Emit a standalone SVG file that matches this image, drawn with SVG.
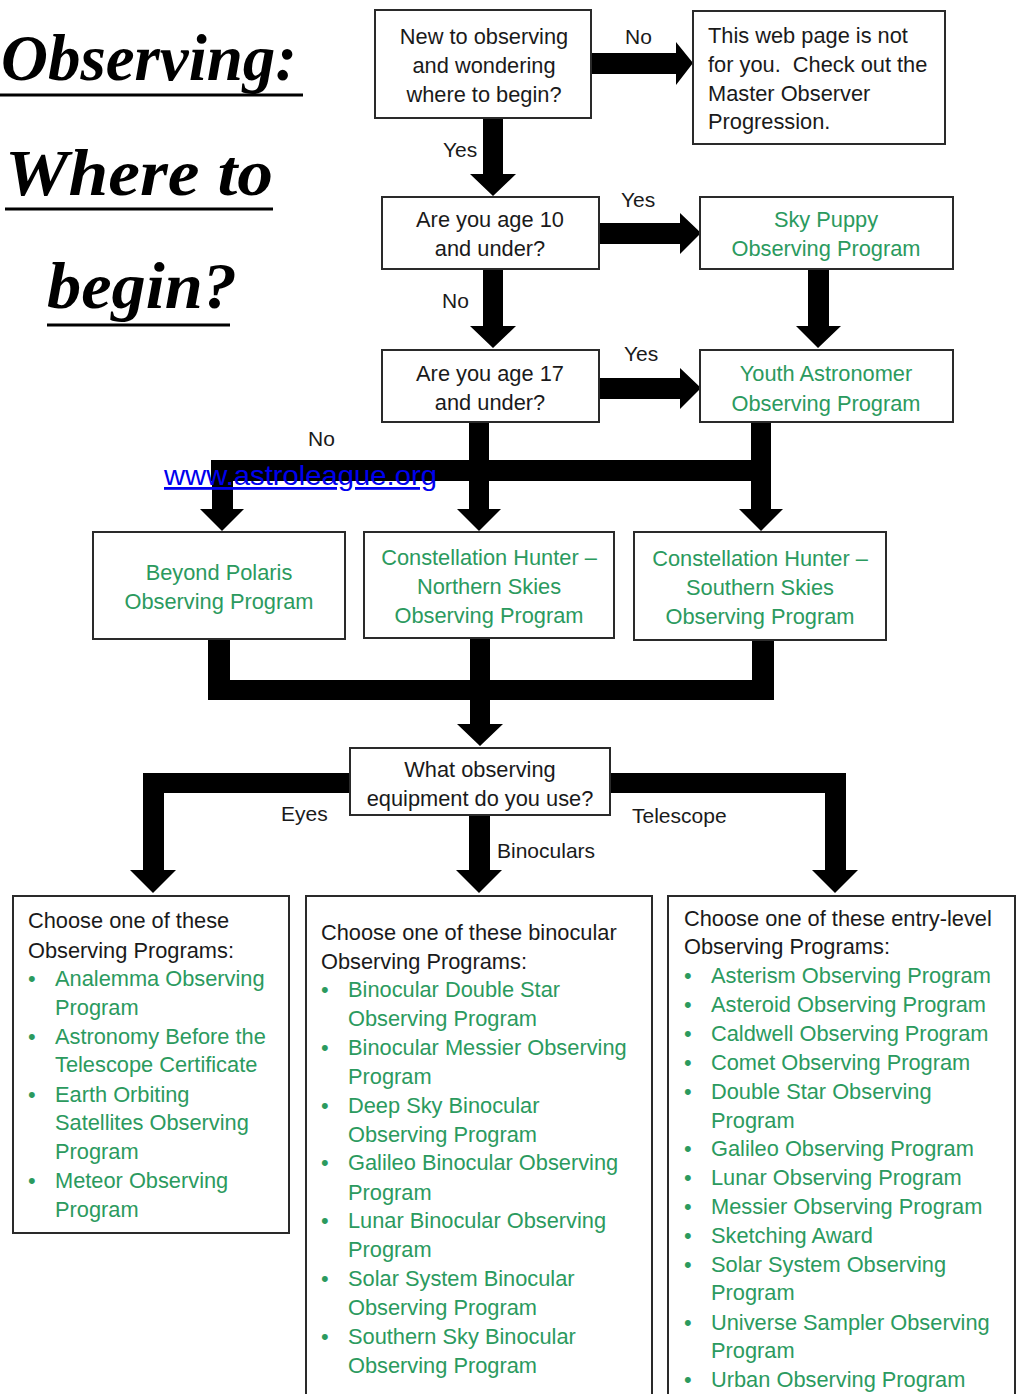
<svg xmlns="http://www.w3.org/2000/svg" width="1017" height="1394" viewBox="0 0 1017 1394">
<style>
.box{fill:#fff;stroke:#2a2a2a;stroke-width:2}
.t{font-family:"Liberation Sans",Arial,sans-serif;font-size:21.8px;fill:#1a1a1a}
.g{font-family:"Liberation Sans",Arial,sans-serif;font-size:21.8px;fill:#2b9a5e}
.c{text-anchor:middle}
.lbl{font-family:"Liberation Sans",Arial,sans-serif;font-size:21px;fill:#1a1a1a}
.title{font-family:"Liberation Serif","DejaVu Serif",serif;font-style:italic;font-weight:bold;font-size:66px;fill:#000}
.ul{stroke:#000;stroke-width:3}
.arr{fill:#000}
.link{font-family:"Liberation Sans",Arial,sans-serif;font-size:28px;fill:#0000ee;text-decoration:underline}
</style>
<rect width="1017" height="1394" fill="#fff"/>

<g id="title">
<text class="title" x="1" y="80" textLength="296" lengthAdjust="spacingAndGlyphs">Observing:</text>
<line class="ul" x1="0" y1="95" x2="303" y2="95"/>
<text class="title" x="5" y="195" textLength="268" lengthAdjust="spacingAndGlyphs">Where to</text>
<line class="ul" x1="5" y1="209" x2="273" y2="209"/>
<text class="title" x="47" y="308" textLength="190" lengthAdjust="spacingAndGlyphs">begin?</text>
<line class="ul" x1="47" y1="325" x2="230" y2="325"/>
</g>

<g id="connectors">
<path class="arr" d="M591,53 H676 V42 L693,63 L676,85 V74 H591 Z"/>
<path class="arr" d="M483,118 H503 V174 H516 L493,196 L470,174 H483 Z"/>
<path class="arr" d="M599,223 H680 V213 L701,233 L680,254 V244 H599 Z"/>
<path class="arr" d="M483,269 H503 V326 H516 L493,348 L470,326 H483 Z"/>
<path class="arr" d="M808,269 H829 V326 H841 L818,348 L796,326 H808 Z"/>
<path class="arr" d="M599,378 H680 V368 L701,388 L680,409 V399 H599 Z"/>
<rect class="arr" x="211" y="460" width="560" height="21"/>
<path class="arr" d="M469,422 H489 V509 H501 L479,531 L457,509 H469 Z"/>
<path class="arr" d="M751,422 H771 V509 H783 L761,531 L739,509 H751 Z"/>
<path class="arr" d="M212,460 H233 V509 H244 L222,531 L200,509 H212 Z"/>
<rect class="arr" x="208" y="639" width="22" height="61"/>
<rect class="arr" x="752" y="639" width="22" height="61"/>
<rect class="arr" x="208" y="680" width="566" height="20"/>
<path class="arr" d="M470,638 H490 V724 H503 L480,746 L457,724 H470 Z"/>
<path class="arr" d="M350,773 H143 V870 H130 L153,893 L176,870 H164 V793 H350 Z"/>
<path class="arr" d="M610,773 H846 V870 H858 L835,893 L812,870 H825 V793 H610 Z"/>
<path class="arr" d="M469,815 H490 V870 H502 L479,893 L456,870 H469 Z"/>
<text class="lbl" x="625" y="44">No</text>
<text class="lbl" x="443" y="157">Yes</text>
<text class="lbl" x="621" y="207">Yes</text>
<text class="lbl" x="442" y="308">No</text>
<text class="lbl" x="624" y="361">Yes</text>
<text class="lbl" x="308" y="446">No</text>
<text class="lbl" x="281" y="821">Eyes</text>
<text class="lbl" x="632" y="823">Telescope</text>
<text class="lbl" x="497" y="858">Binoculars</text>
</g>

<g id="n-new">
<rect class="box" x="375" y="10" width="216" height="108"/>
<text class="t c" x="484" y="44">New to observing</text>
<text class="t c" x="484" y="73">and wondering</text>
<text class="t c" x="484" y="102">where to begin?</text>
</g>

<g id="n-notforyou">
<rect class="box" x="693" y="11" width="252" height="133"/>
<text class="t" x="708" y="43">This web page is not</text>
<text class="t" x="708" y="72">for you.&#160; Check out the</text>
<text class="t" x="708" y="101">Master Observer</text>
<text class="t" x="708" y="129">Progression.</text>
</g>

<g id="n-age10">
<rect class="box" x="382" y="197" width="217" height="72"/>
<text class="t c" x="490" y="227">Are you age 10</text>
<text class="t c" x="490" y="256">and under?</text>
</g>

<g id="n-skypuppy">
<rect class="box" x="700" y="197" width="253" height="72"/>
<text class="g c" x="826" y="227">Sky Puppy</text>
<text class="g c" x="826" y="256">Observing Program</text>
</g>

<g id="n-age17">
<rect class="box" x="382" y="350" width="217" height="72"/>
<text class="t c" x="490" y="381">Are you age 17</text>
<text class="t c" x="490" y="410">and under?</text>
</g>

<g id="n-youth">
<rect class="box" x="700" y="350" width="253" height="72"/>
<text class="g c" x="826" y="381">Youth Astronomer</text>
<text class="g c" x="826" y="411">Observing Program</text>
</g>

<g id="n-link">
<text class="link" x="164" y="485" textLength="273" lengthAdjust="spacingAndGlyphs">www.astroleague.org</text>
</g>

<g id="n-polaris">
<rect class="box" x="93" y="532" width="252" height="107"/>
<text class="g c" x="219" y="580">Beyond Polaris</text>
<text class="g c" x="219" y="609">Observing Program</text>
</g>

<g id="n-chnorth">
<rect class="box" x="364" y="532" width="250" height="106"/>
<text class="g c" x="489" y="565">Constellation Hunter –</text>
<text class="g c" x="489" y="594">Northern Skies</text>
<text class="g c" x="489" y="623">Observing Program</text>
</g>

<g id="n-chsouth">
<rect class="box" x="634" y="532" width="252" height="108"/>
<text class="g c" x="760" y="566">Constellation Hunter –</text>
<text class="g c" x="760" y="595">Southern Skies</text>
<text class="g c" x="760" y="624">Observing Program</text>
</g>

<g id="n-equipment">
<rect class="box" x="350" y="748" width="260" height="67"/>
<text class="t c" x="480" y="777">What observing</text>
<text class="t c" x="480" y="806">equipment do you use?</text>
</g>

<g id="n-eyes">
<rect class="box" x="13" y="896" width="276" height="337"/>
<text class="t" x="28" y="928">Choose one of these</text>
<text class="t" x="28" y="958">Observing Programs:</text>
<g class="g">
<text x="28" y="986">•</text><text x="55" y="986">Analemma Observing</text>
<text x="55" y="1015">Program</text>
<text x="28" y="1044">•</text><text x="55" y="1044">Astronomy Before the</text>
<text x="55" y="1072">Telescope Certificate</text>
<text x="28" y="1102">•</text><text x="55" y="1102">Earth Orbiting</text>
<text x="55" y="1130">Satellites Observing</text>
<text x="55" y="1159">Program</text>
<text x="28" y="1188">•</text><text x="55" y="1188">Meteor Observing</text>
<text x="55" y="1217">Program</text>
</g>
</g>

<g id="n-binoculars">
<rect class="box" x="306" y="896" width="346" height="510"/>
<text class="t" x="321" y="940">Choose one of these binocular</text>
<text class="t" x="321" y="969">Observing Programs:</text>
<g class="g">
<text x="321" y="997">•</text><text x="348" y="997">Binocular Double Star</text>
<text x="348" y="1026">Observing Program</text>
<text x="321" y="1055">•</text><text x="348" y="1055">Binocular Messier Observing</text>
<text x="348" y="1084">Program</text>
<text x="321" y="1113">•</text><text x="348" y="1113">Deep Sky Binocular</text>
<text x="348" y="1142">Observing Program</text>
<text x="321" y="1170">•</text><text x="348" y="1170">Galileo Binocular Observing</text>
<text x="348" y="1200">Program</text>
<text x="321" y="1228">•</text><text x="348" y="1228">Lunar Binocular Observing</text>
<text x="348" y="1257">Program</text>
<text x="321" y="1286">•</text><text x="348" y="1286">Solar System Binocular</text>
<text x="348" y="1315">Observing Program</text>
<text x="321" y="1344">•</text><text x="348" y="1344">Southern Sky Binocular</text>
<text x="348" y="1373">Observing Program</text>
</g>
</g>

<g id="n-telescope">
<rect class="box" x="668" y="896" width="347" height="510"/>
<text class="t" x="684" y="926">Choose one of these entry-level</text>
<text class="t" x="684" y="954">Observing Programs:</text>
<g class="g">
<text x="684" y="983">•</text><text x="711" y="983">Asterism Observing Program</text>
<text x="684" y="1012">•</text><text x="711" y="1012">Asteroid Observing Program</text>
<text x="684" y="1041">•</text><text x="711" y="1041">Caldwell Observing Program</text>
<text x="684" y="1070">•</text><text x="711" y="1070">Comet Observing Program</text>
<text x="684" y="1099">•</text><text x="711" y="1099">Double Star Observing</text>
<text x="711" y="1128">Program</text>
<text x="684" y="1156">•</text><text x="711" y="1156">Galileo Observing Program</text>
<text x="684" y="1185">•</text><text x="711" y="1185">Lunar Observing Program</text>
<text x="684" y="1214">•</text><text x="711" y="1214">Messier Observing Program</text>
<text x="684" y="1243">•</text><text x="711" y="1243">Sketching Award</text>
<text x="684" y="1272">•</text><text x="711" y="1272">Solar System Observing</text>
<text x="711" y="1300">Program</text>
<text x="684" y="1330">•</text><text x="711" y="1330">Universe Sampler Observing</text>
<text x="711" y="1358">Program</text>
<text x="684" y="1387">•</text><text x="711" y="1387">Urban Observing Program</text>
</g>
</g>
</svg>
